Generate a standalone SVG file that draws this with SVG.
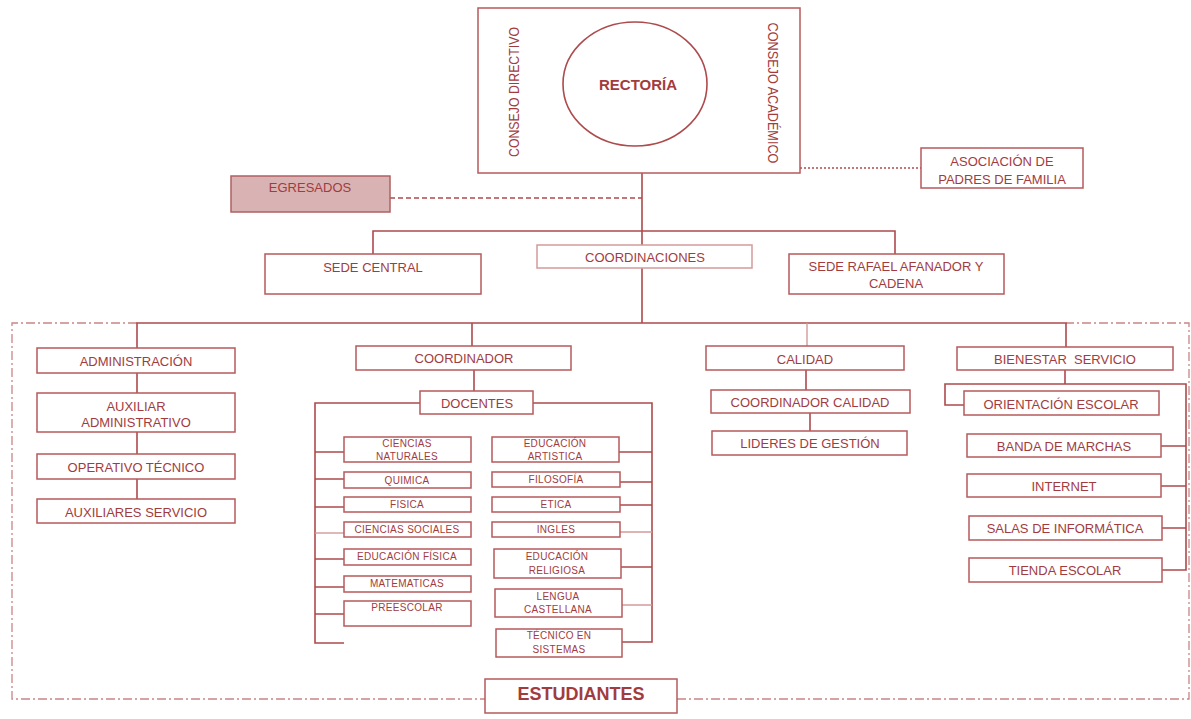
<svg xmlns="http://www.w3.org/2000/svg" width="1191" height="719" viewBox="0 0 1191 719">
<style>
  .bx{fill:#ffffff;stroke:#b65a5b;stroke-width:1.5}
  .t{font-family:"Liberation Sans",Arial,sans-serif;font-size:13px;fill:#a23b3e;text-anchor:middle;dominant-baseline:central}
  .s{font-size:10px;letter-spacing:0.3px}
  .b{font-weight:bold}
  .ln{fill:none;stroke:#ad4a4c;stroke-width:1.6}
  .lf{fill:none;stroke:#d29a9b;stroke-width:1.4}
</style>
<rect width="1191" height="719" fill="#ffffff"/>

<g id="connectors">
  <!-- dash-dot boundary -->
  <path d="M137 323 H12 V699 H485 M677 699 H1189 V323 H1066" fill="none" stroke="#c98586" stroke-width="1.3" stroke-dasharray="9,3,2,3"/>
  <!-- dotted to asociacion -->
  <line x1="800" y1="168" x2="921" y2="168" stroke="#ad4a4c" stroke-width="1.5" stroke-dasharray="2,2"/>
  <!-- dashed to egresados -->
  <line x1="390" y1="198" x2="642" y2="198" stroke="#ad4a4c" stroke-width="1.5" stroke-dasharray="5,3"/>
  <!-- main spine -->
  <path class="ln" d="M642 173 V245 M642 268 V323"/>
  <path class="ln" d="M373 254 V231 H895 V254"/>
  <path class="ln" d="M137 348 V323 H1066 V347 M472 323 V346"/>
  <path class="lf" d="M807 323 V346"/>
  <!-- administracion column -->
  <path class="ln" d="M137 373 V393 M137 432 V454 M137 479 V499"/>
  <!-- coordinador -->
  <path class="ln" d="M474 370 V391"/>
  <path class="ln" d="M420 403 H315 V643 H344 M315 452 H344 M315 479 H344 M315 507 H344 M315 559 H344 M315 587 H344 M315 614 H344"/>
  <path class="lf" d="M315 533 H344"/>
  <path class="ln" d="M533 403 H652 V642 H619 M619 452 H652 M619 482 H652 M619 505 H652 M619 567 H652"/>
  <path class="lf" d="M619 532 H652 M621 605 H652"/>
  <!-- calidad -->
  <path class="ln" d="M806 370 V390 M810 413 V431"/>
  <!-- bienestar -->
  <path class="ln" d="M1065 370 V384 M964 405 H945 V384 H1186 V570 H1162 M1161 446 H1186 M1161 486 H1186 M1162 528 H1186"/>
</g>

<g id="rectoria">
  <rect class="bx" x="478" y="8" width="322" height="165"/>
  <ellipse cx="635" cy="84" rx="72" ry="62" fill="none" stroke="#ad4a4c" stroke-width="1.6"/>
  <text class="t b" x="638" y="84" style="font-size:15px">RECTORÍA</text>
  <text class="t" transform="translate(513,92) rotate(-90)" style="font-size:15px" textLength="130" lengthAdjust="spacingAndGlyphs">CONSEJO DIRECTIVO</text>
  <text class="t" transform="translate(773,93) rotate(90)" style="font-size:15px" textLength="141" lengthAdjust="spacingAndGlyphs">CONSEJO ACADÉMICO</text>
</g>

<g id="asociacion">
  <rect class="bx" x="921" y="148" width="162" height="40"/>
  <text class="t" x="1002" y="161">ASOCIACIÓN DE</text>
  <text class="t" x="1002" y="179">PADRES DE FAMILIA</text>
</g>

<g id="egresados">
  <rect x="231" y="176" width="159" height="36" fill="#d9b2b3" stroke="#b06062" stroke-width="1.5"/>
  <text class="t" x="310" y="187">EGRESADOS</text>
</g>

<g id="sede-central">
  <rect class="bx" x="265" y="254" width="216" height="40"/>
  <text class="t" x="373" y="267">SEDE CENTRAL</text>
</g>
<g id="coordinaciones">
  <rect class="bx" x="537" y="245" width="215" height="23" style="stroke:#d29a9b"/>
  <text class="t" x="645" y="257">COORDINACIONES</text>
</g>
<g id="sede-rafael">
  <rect class="bx" x="789" y="254" width="215" height="40"/>
  <text class="t" x="896" y="266">SEDE RAFAEL AFANADOR Y</text>
  <text class="t" x="896" y="283">CADENA</text>
</g>

<g id="administracion">
  <rect class="bx" x="37" y="348" width="198" height="25"/>
  <text class="t" x="136" y="361">ADMINISTRACIÓN</text>
</g>
<g id="auxiliar-administrativo">
  <rect class="bx" x="37" y="393" width="198" height="39"/>
  <text class="t" x="136" y="406">AUXILIAR</text>
  <text class="t" x="136" y="422">ADMINISTRATIVO</text>
</g>
<g id="operativo-tecnico">
  <rect class="bx" x="37" y="454" width="198" height="25"/>
  <text class="t" x="136" y="467">OPERATIVO TÉCNICO</text>
</g>
<g id="auxiliares-servicio">
  <rect class="bx" x="37" y="499" width="198" height="24"/>
  <text class="t" x="136" y="512">AUXILIARES SERVICIO</text>
</g>

<g id="coordinador">
  <rect class="bx" x="356" y="346" width="215" height="24"/>
  <text class="t" x="464" y="358">COORDINADOR</text>
</g>
<g id="docentes">
  <rect class="bx" x="420" y="391" width="113" height="23"/>
  <text class="t" x="477" y="403">DOCENTES</text>
</g>

<g id="ciencias-naturales">
  <rect class="bx" x="344" y="437" width="127" height="25"/>
  <text class="t s" x="407" y="443">CIENCIAS</text>
  <text class="t s" x="407" y="456">NATURALES</text>
</g>
<g id="quimica">
  <rect class="bx" x="344" y="472" width="127" height="16"/>
  <text class="t s" x="407" y="480">QUIMICA</text>
</g>
<g id="fisica">
  <rect class="bx" x="344" y="497" width="127" height="15"/>
  <text class="t s" x="407" y="504">FISICA</text>
</g>
<g id="ciencias-sociales">
  <rect class="bx" x="344" y="522" width="127" height="15"/>
  <text class="t s" x="407" y="529">CIENCIAS SOCIALES</text>
</g>
<g id="educacion-fisica">
  <rect class="bx" x="344" y="549" width="127" height="16"/>
  <text class="t s" x="407" y="556">EDUCACIÓN FÍSICA</text>
</g>
<g id="matematicas">
  <rect class="bx" x="344" y="576" width="127" height="16"/>
  <text class="t s" x="407" y="583">MATEMATICAS</text>
</g>
<g id="preescolar">
  <rect class="bx" x="344" y="601" width="127" height="25"/>
  <text class="t s" x="407" y="607">PREESCOLAR</text>
</g>

<g id="educacion-artistica">
  <rect class="bx" x="492" y="437" width="127" height="25"/>
  <text class="t s" x="555" y="443">EDUCACIÓN</text>
  <text class="t s" x="555" y="456">ARTISTICA</text>
</g>
<g id="filosofia">
  <rect class="bx" x="492" y="472" width="128" height="15"/>
  <text class="t s" x="556" y="479">FILOSOFÍA</text>
</g>
<g id="etica">
  <rect class="bx" x="492" y="497" width="128" height="15"/>
  <text class="t s" x="556" y="504">ETICA</text>
</g>
<g id="ingles">
  <rect class="bx" x="492" y="522" width="128" height="15"/>
  <text class="t s" x="556" y="529">INGLES</text>
</g>
<g id="educacion-religiosa">
  <rect class="bx" x="494" y="549" width="127" height="29"/>
  <text class="t s" x="557" y="556">EDUCACIÓN</text>
  <text class="t s" x="557" y="570">RELIGIOSA</text>
</g>
<g id="lengua-castellana">
  <rect class="bx" x="495" y="589" width="127" height="28"/>
  <text class="t s" x="558" y="596">LENGUA</text>
  <text class="t s" x="558" y="609">CASTELLANA</text>
</g>
<g id="tecnico-sistemas">
  <rect class="bx" x="496" y="629" width="126" height="28"/>
  <text class="t s" x="559" y="635">TÉCNICO EN</text>
  <text class="t s" x="559" y="649">SISTEMAS</text>
</g>

<g id="calidad">
  <rect class="bx" x="706" y="346" width="198" height="24"/>
  <text class="t" x="805" y="359">CALIDAD</text>
</g>
<g id="coordinador-calidad">
  <rect class="bx" x="711" y="390" width="199" height="23"/>
  <text class="t" x="810" y="402">COORDINADOR CALIDAD</text>
</g>
<g id="lideres-gestion">
  <rect class="bx" x="712" y="431" width="195" height="24"/>
  <text class="t" x="810" y="443">LIDERES DE GESTIÓN</text>
</g>

<g id="bienestar-servicio">
  <rect class="bx" x="957" y="347" width="216" height="23"/>
  <text class="t" x="1065" y="359" style="white-space:pre">BIENESTAR  SERVICIO</text>
</g>
<g id="orientacion-escolar">
  <rect class="bx" x="964" y="391" width="195" height="24"/>
  <text class="t" x="1061" y="404">ORIENTACIÓN ESCOLAR</text>
</g>
<g id="banda-marchas">
  <rect class="bx" x="967" y="434" width="194" height="23"/>
  <text class="t" x="1064" y="446">BANDA DE MARCHAS</text>
</g>
<g id="internet">
  <rect class="bx" x="967" y="474" width="194" height="23"/>
  <text class="t" x="1064" y="486">INTERNET</text>
</g>
<g id="salas-informatica">
  <rect class="bx" x="969" y="516" width="193" height="24"/>
  <text class="t" x="1065" y="528">SALAS DE INFORMÁTICA</text>
</g>
<g id="tienda-escolar">
  <rect class="bx" x="969" y="558" width="193" height="24"/>
  <text class="t" x="1065" y="570">TIENDA ESCOLAR</text>
</g>

<g id="estudiantes">
  <rect class="bx" x="485" y="679" width="192" height="34"/>
  <text class="t b" x="581" y="694" style="font-size:18px">ESTUDIANTES</text>
</g>
</svg>
